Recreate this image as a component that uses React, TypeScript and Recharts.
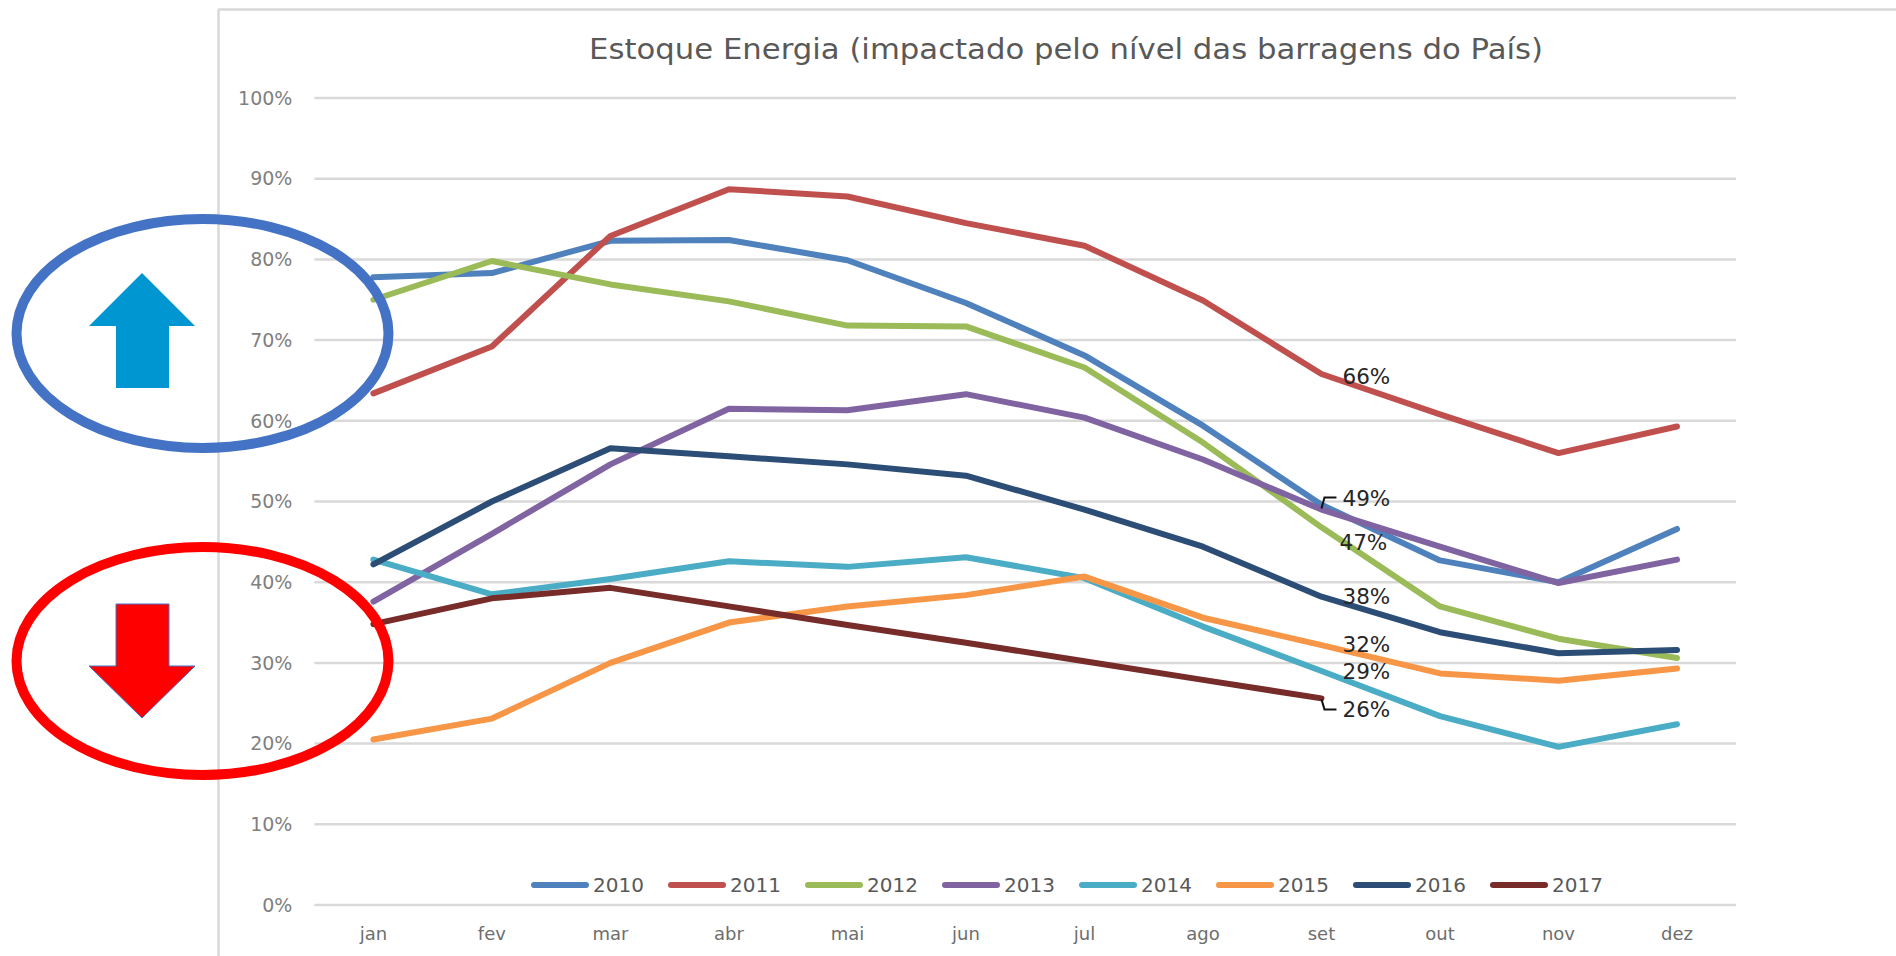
import React from "react";
import { LineChart, Line, XAxis, YAxis, CartesianGrid, Legend } from "recharts";

const months = ["jan", "fev", "mar", "abr", "mai", "jun", "jul", "ago", "set", "out", "nov", "dez"];
const yTicks = [0, 10, 20, 30, 40, 50, 60, 70, 80, 90, 100];
const s2010 = [77.8, 78.3, 82.3, 82.4, 79.9, 74.6, 68.1, 59.4, 49.6, 42.7, 40, 46.6];
const s2011 = [63.4, 69.2, 82.9, 88.7, 87.8, 84.5, 81.7, 74.9, 65.8, 60.8, 56, 59.3];
const s2012 = [75, 79.8, 76.9, 74.8, 71.8, 71.7, 66.6, 57.3, 46.8, 37, 33, 30.6];
const s2013 = [37.6, 46, 54.6, 61.5, 61.3, 63.3, 60.4, 55.2, 49, 44.4, 39.9, 42.8];
const s2014 = [42.8, 38.5, 40.4, 42.6, 41.9, 43.1, 40.5, 34.5, 29, 23.4, 19.6, 22.4];
const s2015 = [20.5, 23.1, 30, 35, 37, 38.4, 40.7, 35.6, 32.2, 28.7, 27.8, 29.3];
const s2016 = [42.2, 50, 56.6, 55.6, 54.6, 53.2, 49, 44.4, 38.2, 33.8, 31.2, 31.6];
const s2017: (number | null)[] = [34.8, 38, 39.3, 37, 34.7, 32.5, 30.2, 27.9, 25.6, null, null, null];

const seriesList = [
  { name: "2010", values: s2010, color: "#4F81BD" },
  { name: "2011", values: s2011, color: "#C0504D", label: "66%", dx: 21, dy: 2 },
  { name: "2012", values: s2012, color: "#9BBB59", label: "47%", dx: 18, dy: 15 },
  { name: "2013", values: s2013, color: "#8064A2", label: "49%", dx: 21, dy: -11, leader: "up" },
  { name: "2014", values: s2014, color: "#4BACC6", label: "29%", dx: 21, dy: 1 },
  { name: "2015", values: s2015, color: "#F79646", label: "32%", dx: 21, dy: -1 },
  { name: "2016", values: s2016, color: "#2C4D75", label: "38%", dx: 21, dy: 0 },
  { name: "2017", values: s2017, color: "#772C2A", label: "26%", dx: 21, dy: 11, leader: "down" },
];

const rows = months.map((m, i) => {
  const row: Record<string, string | number | null> = { month: m };
  seriesList.forEach((s) => (row[s.name] = s.values[i]));
  return row;
});

const FONT = "'DejaVu Sans', sans-serif";
const LABEL_INDEX = months.indexOf("set");

function makeLabel(s: (typeof seriesList)[number]) {
  return (p: any) => {
    if (!s.label || p.index !== LABEL_INDEX) return <g key={p.index} />;
    const tx = p.x + s.dx;
    const ty = p.y + s.dy;
    let leader = null;
    if (s.leader === "up") {
      leader = <path d={`M${p.x} ${p.y - 1} L${p.x + 3} ${ty - 1} L${p.x + 15} ${ty - 1}`} fill="none" stroke="#111" strokeWidth={2} />;
    } else if (s.leader === "down") {
      leader = <path d={`M${p.x} ${p.y + 1} L${p.x + 3} ${ty} L${p.x + 15} ${ty}`} fill="none" stroke="#111" strokeWidth={2} />;
    }
    return (
      <g key={p.index}>
        {leader}
        <text x={tx} y={ty} dy="0.35em" fontFamily={FONT} fontSize={21.5} fill="#262626">
          {s.label}
        </text>
      </g>
    );
  };
}

function LegendRow({ payload }: any) {
  return (
    <div style={{ display: "flex", fontFamily: FONT, fontSize: 20, color: "#595959" }}>
      {(payload || []).map((e: any) => (
        <div key={e.value} style={{ width: 137, display: "flex", alignItems: "center", flex: "none" }}>
          <span style={{ width: 58, height: 6, borderRadius: 3, background: e.color, marginRight: 4, display: "inline-block" }} />
          <span style={{ lineHeight: "20px" }}>{e.value}</span>
        </div>
      ))}
    </div>
  );
}

export default function App() {
  return (
    <div style={{ position: "absolute", left: 0, top: 0, width: 1896, height: 956, overflow: "hidden", background: "#fff" }}>
      <LineChart width={1896} height={956} data={rows} margin={{ top: 98, right: 160, bottom: 0, left: 0 }}>
        <CartesianGrid horizontal vertical={false} stroke="#D9D9D9" strokeWidth={2.5} />
        <XAxis
          dataKey="month"
          height={51}
          padding={{ left: 59, right: 59 }}
          axisLine={false}
          tickLine={false}
          tickSize={0}
          tickMargin={22}
          tick={{ fontFamily: FONT, fontSize: 18, fill: "#6E6E6E" }}
          interval={0}
        />
        <YAxis
          width={314.4}
          domain={[0, 100]}
          ticks={yTicks}
          axisLine={false}
          tickLine={false}
          tickSize={0}
          tickMargin={22}
          tickFormatter={(v: number) => `${v}%`}
          tick={{ fontFamily: FONT, fontSize: 19, fill: "#7F7F7F" }}
        />
        <Legend
          verticalAlign="middle"
          align="center"
          content={<LegendRow />}
          wrapperStyle={{ position: "absolute", left: 531, top: 875, width: 1120, height: 20 }}
        />
        {seriesList.map((s) => (
          <Line
            key={s.name}
            dataKey={s.name}
            name={s.name}
            stroke={s.color}
            strokeWidth={6}
            strokeLinecap="round"
            strokeLinejoin="round"
            dot={false}
            activeDot={false}
            connectNulls={false}
            isAnimationActive={false}
            label={makeLabel(s)}
          />
        ))}
      </LineChart>
      <svg width={1896} height={956} style={{ position: "absolute", left: 0, top: 0, pointerEvents: "none" }}>
        <line x1={218.5} y1={9.5} x2={218.5} y2={956} stroke="#D9D9D9" strokeWidth={2.5} />
        <line x1={218} y1={9.5} x2={1896} y2={9.5} stroke="#D9D9D9" strokeWidth={2.5} />
        <text x={1066} y={49} dy="0.35em" textAnchor="middle" fontFamily={FONT} fontSize={28} fill="#595959" textLength={954} lengthAdjust="spacingAndGlyphs">
          Estoque Energia (impactado pelo nível das barragens do País)
        </text>
        <ellipse cx={202.5} cy={333.5} rx={186} ry={114.5} fill="none" stroke="#4472C4" strokeWidth={10} />
        <ellipse cx={202.5} cy={661} rx={186} ry={114} fill="none" stroke="#FF0000" strokeWidth={10} />
        <polygon points="142,273 195,326 169,326 169,388 116,388 116,326 89,326" fill="#0096D2" />
        <polygon points="116,604 169,604 169,666 195,666 142,718 89,666 116,666" fill="#FF0000" stroke="#4472C4" strokeWidth={1} />
      </svg>
    </div>
  );
}
